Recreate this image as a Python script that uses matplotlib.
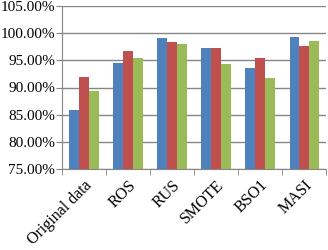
import numpy as np
import matplotlib
matplotlib.use('Agg')
import matplotlib.pyplot as plt
from matplotlib.ticker import FuncFormatter

# data (percent)
categories = ['Original data', 'ROS', 'RUS', 'SMOTE', 'BSO1', 'MASI']
series_a = [85.9, 94.5, 99.1, 97.3, 93.6, 99.3]
series_b = [91.9, 96.7, 98.4, 97.3, 95.4, 97.6]
series_c = [89.3, 95.4, 98.0, 94.3, 91.8, 98.6]

colors = ['#4F81BD', '#C0504D', '#9BBB59']

plt.rcParams['font.family'] = ['Liberation Serif', 'DejaVu Serif']

fig = plt.figure(figsize=(3.28, 2.5), dpi=100)
ax = fig.add_axes([0.189, 0.324, 0.805, 0.652])

x = np.arange(len(categories))
w = 0.22
for i, (vals, c) in enumerate(zip([series_a, series_b, series_c], colors)):
    ax.bar(x + (i - 1) * w, vals, width=w, color=c, zorder=3)

ax.set_ylim(75, 105)
ax.set_yticks(np.arange(75, 105.1, 5))
ax.yaxis.set_major_formatter(FuncFormatter(lambda v, p: f'{v:.2f}%'))
ax.set_xlim(-0.5, len(categories) - 0.5)
ax.set_xticks(x)
ax.set_xticklabels(categories, rotation=45, ha='right', rotation_mode='anchor')
ax.set_xticks(np.arange(-0.5, len(categories), 1), minor=True)
ax.tick_params(axis='x', which='major', length=0, pad=6, labelsize=11.5)
ax.tick_params(axis='x', which='minor', length=4, color='#868686', direction='out')
ax.tick_params(axis='y', length=4, color='#868686', labelsize=11, pad=1)

ax.grid(axis='y', color='#868686', linewidth=1, zorder=0)
for s in ['top', 'right']:
    ax.spines[s].set_visible(False)
for s in ['left', 'bottom']:
    ax.spines[s].set_color('#868686')

fig.savefig('out.png', dpi=100)
